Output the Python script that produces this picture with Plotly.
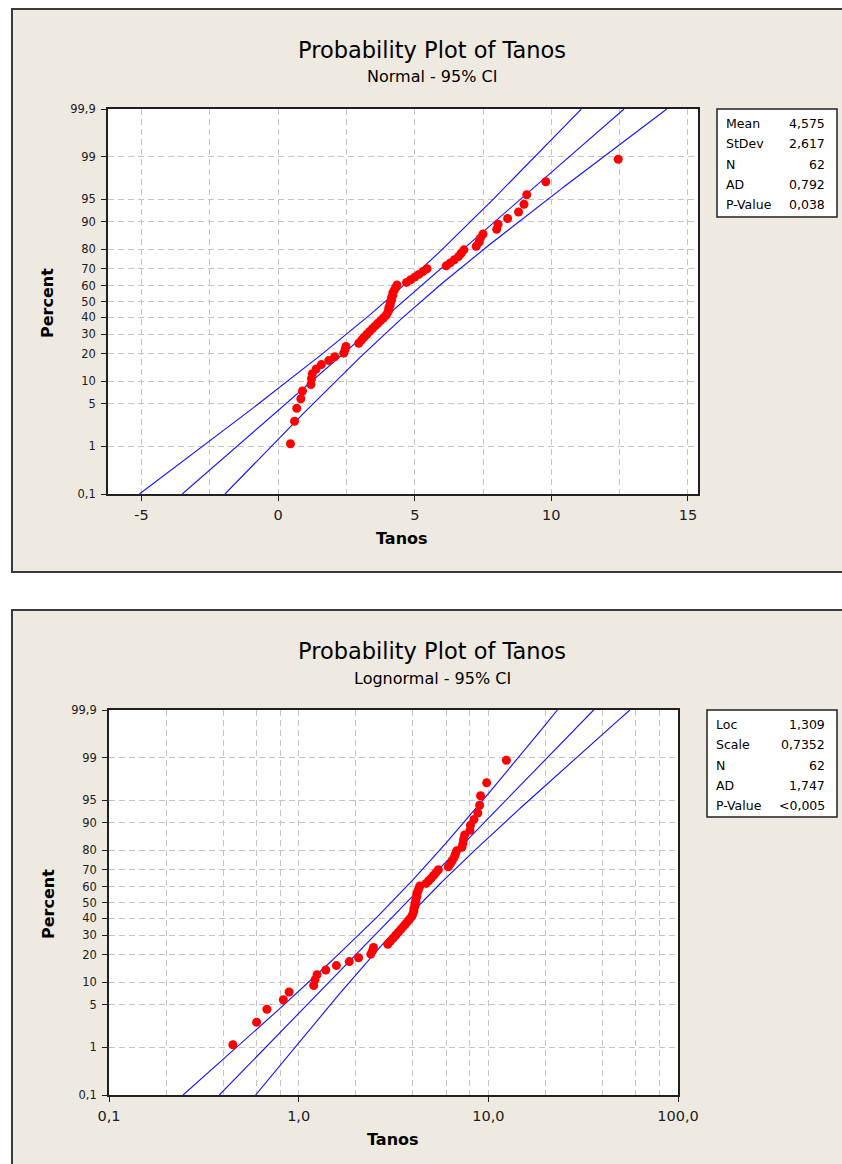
import math
from statistics import NormalDist
import plotly.graph_objects as go

W, H = 842, 1164

# ---- data -------------------------------------------------------------
tanos = [0.45, 0.60, 0.68, 0.83, 0.89, 1.20, 1.22, 1.25, 1.39, 1.58,
         1.85, 2.07, 2.40, 2.45, 2.48, 2.95, 3.05, 3.15, 3.25, 3.35,
         3.45, 3.55, 3.65, 3.75, 3.85, 3.95, 4.00, 4.05, 4.05, 4.10,
         4.10, 4.15, 4.15, 4.20, 4.20, 4.25, 4.30, 4.35, 4.70, 4.85,
         5.00, 5.15, 5.30, 5.45, 6.15, 6.30, 6.45, 6.60, 6.70, 6.80,
         7.25, 7.35, 7.40, 7.50, 8.00, 8.05, 8.40, 8.80, 9.00, 9.10,
         9.80, 12.45]

normal_mean = 4.575
normal_stdev = 2.617
lognormal_loc = 1.309
lognormal_scale = 0.7352
sample_n = 62

normal_stat_labels = ["Mean", "StDev", "N", "AD", "P-Value"]
normal_stat_values = ["4,575", "2,617", "62", "0,792", "0,038"]
lognormal_stat_labels = ["Loc", "Scale", "N", "AD", "P-Value"]
lognormal_stat_values = ["1,309", "0,7352", "62", "1,747", "<0,005"]

percent_ticks = [0.1, 1, 5, 10, 20, 30, 40, 50, 60, 70, 80, 90, 95, 99, 99.9]
percent_ticktext = ["0,1", "1", "5", "10", "20", "30", "40", "50", "60",
                    "70", "80", "90", "95", "99", "99,9"]

normal_xticks = [-5, 0, 5, 10, 15]
normal_xticktext = ["-5", "0", "5", "10", "15"]
log_xticks = [0.1, 1, 10, 100]
log_xticktext = ["0,1", "1,0", "10,0", "100,0"]
log_minor_grid = [0.2, 0.4, 0.6, 0.8, 2, 4, 6, 8, 20, 40, 60, 80]

# ---- probability scale helpers ---------------------------------------
nd = NormalDist()
zq = nd.inv_cdf
z_lo, z_hi = zq(0.001), zq(0.999)

xs = sorted(tanos)
n = len(xs)
z_pts = [zq((i + 1 - 0.3) / (n + 0.4)) for i in range(n)]   # median ranks

z_line = [z_lo + (z_hi - z_lo) * k / 300 for k in range(301)]
crit = zq(0.975)


def band(z, s):
    return crit * s * math.sqrt((1 + z * z / 2) / sample_n)


norm_fit = [normal_mean + z * normal_stdev for z in z_line]
norm_lo = [normal_mean + z * normal_stdev - band(z, normal_stdev) for z in z_line]
norm_hi = [normal_mean + z * normal_stdev + band(z, normal_stdev) for z in z_line]

ln_fit = [math.exp(lognormal_loc + z * lognormal_scale) for z in z_line]
ln_lo = [math.exp(lognormal_loc + z * lognormal_scale - band(z, lognormal_scale)) for z in z_line]
ln_hi = [math.exp(lognormal_loc + z * lognormal_scale + band(z, lognormal_scale)) for z in z_line]

# ---- figure ----------------------------------------------------------
FONT = "DejaVu Sans"
BEIGE = "#EEEAE1"
LINE_BLUE = "#1010FF"
DOT_RED = "#FF0000"
GRID = "#C4C4C4"
GRID_DASH = "6px,4px"
INK = "#202020"

fig = go.Figure()

for xref, yref, fit, lo, hi, zs in (("x", "y", norm_fit, norm_lo, norm_hi, z_line),
                                    ("x2", "y2", ln_fit, ln_lo, ln_hi, z_line)):
    for series in (lo, fit, hi):
        fig.add_trace(go.Scatter(x=series, y=zs, mode="lines", xaxis=xref, yaxis=yref,
                                 line=dict(color=LINE_BLUE, width=1.1), hoverinfo="skip",
                                 showlegend=False))
    fig.add_trace(go.Scatter(x=xs, y=z_pts, mode="markers", xaxis=xref, yaxis=yref,
                             marker=dict(color=DOT_RED, size=9, line=dict(width=0)),
                             showlegend=False))


def px_x(p):
    return p / W


def px_y(p):
    return 1 - p / H


# plot areas (pixels)
top_box = dict(l=108, r=698, t=109, b=494)
bot_box = dict(l=109, r=678, t=710, b=1095)

yaxis_common = dict(
    range=[z_lo, z_hi], tickmode="array",
    tickvals=[zq(p / 100) for p in percent_ticks], ticktext=percent_ticktext,
    showgrid=True, gridcolor=GRID, griddash=GRID_DASH, gridwidth=1,
    zeroline=False, showline=True, linecolor=INK, linewidth=1.8, mirror=True,
    ticks="outside", ticklen=5, tickwidth=1, tickcolor=INK,
    tickfont=dict(family=FONT, size=11.5, color=INK), ticklabelstandoff=3,
    fixedrange=True, automargin=False,
)
xaxis_common = dict(
    showgrid=True, gridcolor=GRID, griddash=GRID_DASH, gridwidth=1,
    zeroline=False, showline=True, linecolor=INK, linewidth=1.8, mirror=True,
    ticks="outside", ticklen=5, tickwidth=1, tickcolor=INK,
    tickfont=dict(family=FONT, size=14.5, color=INK), ticklabelstandoff=2,
    fixedrange=True, automargin=False,
)

fig.update_layout(
    width=W, height=H, margin=dict(l=0, r=0, t=0, b=0, pad=0), autosize=False,
    paper_bgcolor="white", plot_bgcolor="white", showlegend=False,
    xaxis=dict(domain=[px_x(top_box["l"]), px_x(top_box["r"])], anchor="y",
               range=[-6.23, 15.37], tickmode="array", tickvals=normal_xticks,
               ticktext=normal_xticktext,
               minor=dict(tickmode="linear", tick0=0, dtick=2.5, showgrid=True,
                          gridcolor=GRID, griddash=GRID_DASH, gridwidth=1, ticks=""),
               **xaxis_common),
    yaxis=dict(domain=[px_y(top_box["b"]), px_y(top_box["t"])], anchor="x", **yaxis_common),
    xaxis2=dict(domain=[px_x(bot_box["l"]), px_x(bot_box["r"])], anchor="y2", type="log",
                range=[-1, 2], tickmode="array", tickvals=log_xticks, ticktext=log_xticktext,
                minor=dict(tickmode="array", tickvals=log_minor_grid, showgrid=True,
                           gridcolor=GRID, griddash=GRID_DASH, gridwidth=1, ticks=""),
                **xaxis_common),
    yaxis2=dict(domain=[px_y(bot_box["b"]), px_y(bot_box["t"])], anchor="x2", **yaxis_common),
)

shapes = []
# panel backgrounds
for top, bottom in ((9, 572), (610, 1172)):
    shapes.append(dict(type="rect", xref="paper", yref="paper", layer="below",
                       x0=px_x(12), x1=px_x(850), y0=px_y(bottom), y1=px_y(top),
                       fillcolor=BEIGE, line=dict(color="#3A3A3A", width=2)))
# white plot areas
for xr, yr in (("x domain", "y domain"), ("x2 domain", "y2 domain")):
    shapes.append(dict(type="rect", xref=xr, yref=yr, layer="below",
                       x0=0, x1=1, y0=0, y1=1, fillcolor="white", line=dict(width=0)))

annotations = []


def text(x, y, s, size, bold=False, xanchor="center", angle=0):
    annotations.append(dict(
        x=px_x(x), y=px_y(y), xref="paper", yref="paper", text=s, showarrow=False,
        xanchor=xanchor, yanchor="middle", textangle=angle,
        font=dict(family=FONT, size=size, color="#000000",
                  weight="bold" if bold else "normal")))


# titles and axis labels for both panels
for off, dist in ((0, "Normal"), (601, "Lognormal")):
    text(432, 50 + off, "Probability Plot of Tanos", 22.5)
    text(432, 77 + off, f"{dist} - 95% CI", 16)
    text(48, 303 + off, "Percent", 16, bold=True, angle=-90)
text(402, 538, "Tanos", 16, bold=True)
text(393, 1139, "Tanos", 16, bold=True)

# statistics boxes
for (bx0, bx1, by0, by1, labels, values) in (
        (717, 837, 109, 217, normal_stat_labels, normal_stat_values),
        (707, 837, 710, 817, lognormal_stat_labels, lognormal_stat_values)):
    shapes.append(dict(type="rect", xref="paper", yref="paper",
                       x0=px_x(bx0), x1=px_x(bx1), y0=px_y(by1), y1=px_y(by0),
                       fillcolor="white", line=dict(color="#202020", width=1.5)))
    for k, (lab, val) in enumerate(zip(labels, values)):
        ry = by0 + 14.5 + 20.3 * k
        text(bx0 + 7, ry, lab, 12.5, xanchor="left")
        text(bx1 - 10, ry, val, 12.5, xanchor="right")

fig.update_layout(shapes=shapes, annotations=annotations)
fig.write_html("out.html")
